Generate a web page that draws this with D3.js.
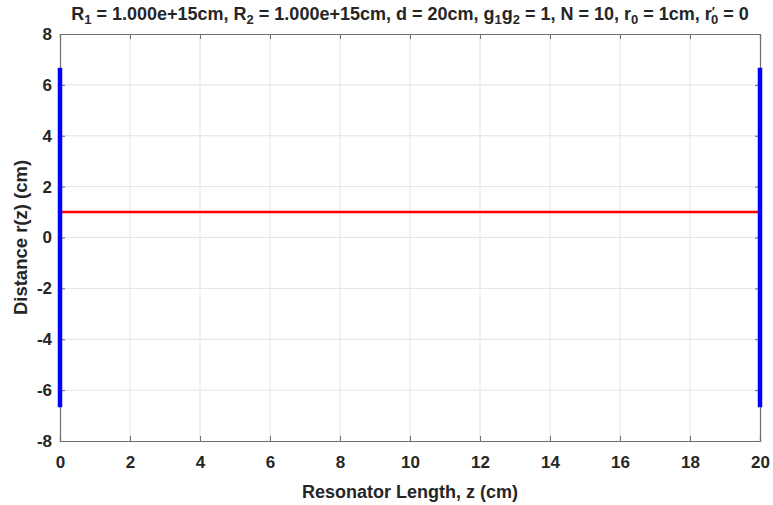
<!DOCTYPE html>
<html><head><meta charset="utf-8">
<script src="https://cdn.jsdelivr.net/npm/d3@7"></script>
<style>body{margin:0;background:#fff}svg{display:block}text{font-family:"Liberation Sans",Arial,sans-serif;font-weight:bold;fill:#262626}</style>
</head><body><svg id="c" width="773" height="505"></svg>
<script>
const xTicks = [0,2,4,6,8,10,12,14,16,18,20];
const yTicks = [-8,-6,-4,-2,0,2,4,6,8];
const rayZ = [0, 20];
const rayR = [1, 1];
const mirrorZ = [0, 20];
const mirrorHalf = [6.67, 6.67];

const svg = d3.select('#c');
const L=60, R=760, T=34, B=441;
const x = d3.scaleLinear().domain([0,20]).range([L,R]);
const y = d3.scaleLinear().domain([-8,8]).range([B,T]);
const axisCol = '#6e6e6e', gridCol = '#e3e3e3';

// grid
svg.append('g').selectAll('line').data(xTicks.slice(1,-1)).join('line')
  .attr('x1',d=>x(d)).attr('x2',d=>x(d)).attr('y1',T).attr('y2',B).attr('stroke',gridCol);
svg.append('g').selectAll('line').data(yTicks.slice(1,-1)).join('line')
  .attr('y1',d=>y(d)).attr('y2',d=>y(d)).attr('x1',L).attr('x2',R).attr('stroke',gridCol);

const fmt = d => String(d);
// axes
const gx = svg.append('g').attr('transform',`translate(0,${B})`)
  .call(d3.axisBottom(x).tickValues(xTicks).tickSize(-5).tickPadding(15).tickFormat(fmt));
const gy = svg.append('g').attr('transform',`translate(${L},0)`)
  .call(d3.axisLeft(y).tickValues(yTicks).tickSize(-5).tickPadding(8).tickFormat(fmt));
const gx2 = svg.append('g').attr('transform',`translate(0,${T})`)
  .call(d3.axisTop(x).tickValues(xTicks).tickSize(-5).tickFormat(''));
const gy2 = svg.append('g').attr('transform',`translate(${R},0)`)
  .call(d3.axisRight(y).tickValues(yTicks).tickSize(-5).tickFormat(''));
[gx,gy,gx2,gy2].forEach(g=>{
  g.selectAll('path').attr('stroke',axisCol).attr('stroke-width',1.2);
  g.selectAll('line').attr('stroke',axisCol);
  g.selectAll('text').attr('font-size',17).attr('font-family','Liberation Sans, Arial, sans-serif').attr('font-weight','bold').attr('fill','#262626');
});

// ray
svg.append('path').datum(rayZ.map((z,i)=>[z,rayR[i]]))
  .attr('d',d3.line().x(d=>x(d[0])).y(d=>y(d[1])))
  .attr('fill','none').attr('stroke','#ff0000').attr('stroke-width',2.5);

// mirrors
svg.append('g').selectAll('line').data(mirrorZ).join('line')
  .attr('x1',d=>x(d)).attr('x2',d=>x(d))
  .attr('y1',(d,i)=>y(mirrorHalf[i])).attr('y2',(d,i)=>y(-mirrorHalf[i]))
  .attr('stroke','#0000ff').attr('stroke-width',4.5);

// labels
svg.append('text').attr('x',(L+R)/2).attr('y',498).attr('text-anchor','middle').attr('font-size',18)
  .text('Resonator Length, z (cm)');
svg.append('text').attr('transform',`translate(27,${(T+B)/2}) rotate(-90)`).attr('text-anchor','middle').attr('font-size',18.5)
  .text('Distance r(z) (cm)');

// title with subscripts
const t = svg.append('text').attr('x',(L+R)/2).attr('y',20).attr('text-anchor','middle').attr('font-size',18);
const parts = [['R',''],['1','sub'],[' = 1.000e+15cm, R',''],['2','sub'],[' = 1.000e+15cm,  d = 20cm, g',''],['1','sub'],['g',''],['2','sub'],[' = 1, N = 10, r',''],['0','sub'],[' = 1cm, r',''],['′','sup'],['0','sub2'],[' = 0','']];
parts.forEach(([s,k])=>{
  const ts = t.append('tspan').text(s);
  if(k==='sub') ts.attr('baseline-shift','-30%').attr('font-size',13);
  if(k==='sup') ts.attr('baseline-shift','30%').attr('font-size',13);
  if(k==='sub2') ts.attr('baseline-shift','-30%').attr('font-size',13).attr('dx',-4);
});
</script></body></html>
